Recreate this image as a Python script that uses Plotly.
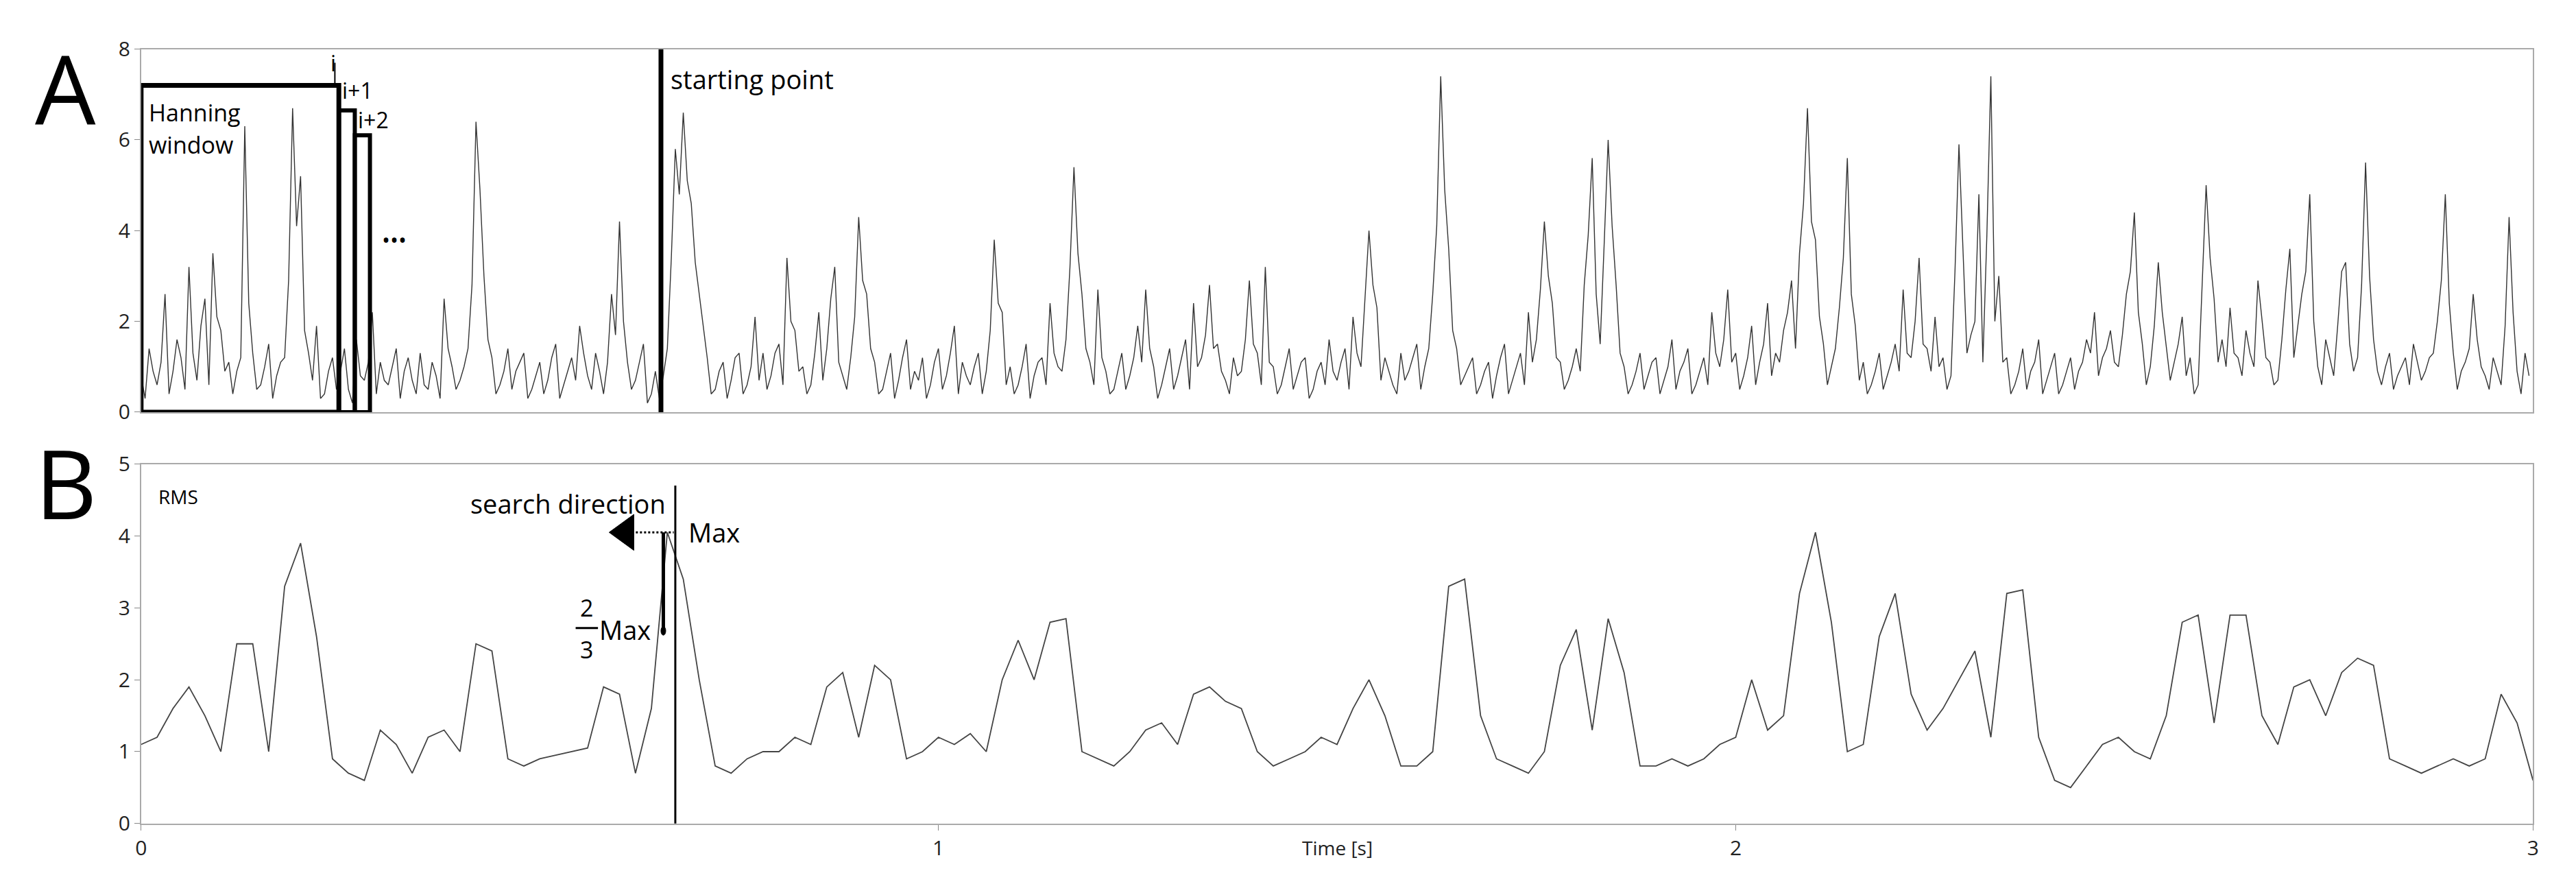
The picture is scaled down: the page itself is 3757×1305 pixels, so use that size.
import plotly.graph_objects as go

# EMG samples at t = 0.00, 0.01, ...
emg = [
0.8,1.4,0.6,2.6,0.9,1.2,3.2,0.7,2.5,3.5,
1.8,1.1,0.9,6.3,1.3,0.6,1.5,0.8,1.2,6.7,
5.2,1.3,1.9,0.4,1.2,0.9,0.5,1.6,0.7,2.2,
1.1,0.6,1.4,0.9,0.7,1.3,0.5,0.8,2.5,1.0,
0.7,1.4,6.4,3.0,1.2,0.6,1.4,0.9,1.3,0.5,
1.1,0.7,1.5,0.6,1.2,1.9,0.8,1.3,0.4,2.6,
4.2,1.1,0.7,1.5,0.4,0.3,1.4,5.8,6.6,4.6,
2.6,1.2,0.5,1.1,0.7,1.3,0.6,2.1,1.3,0.8,
1.5,3.4,1.8,1.0,0.6,2.2,1.4,3.2,0.8,1.2,
4.3,2.6,1.1,0.5,1.3,0.7,1.6,0.9,1.2,0.6,
1.4,0.8,1.9,1.1,0.6,1.3,0.9,3.8,2.2,1.0,
0.6,1.5,0.8,1.2,2.4,1.0,1.6,5.4,2.6,1.1,
2.7,0.9,0.5,1.3,0.8,1.9,2.7,1.0,0.6,1.4,
0.8,1.6,2.4,1.2,2.8,1.5,0.7,1.2,0.9,2.9,
1.3,3.2,1.0,0.6,1.4,0.8,1.2,0.5,1.1,1.6,
0.7,1.4,2.1,1.0,4.0,2.3,1.2,0.6,1.3,0.9,
1.5,1.0,2.6,7.4,3.6,1.4,0.8,1.2,0.6,1.1,
0.8,1.5,0.7,1.3,2.2,1.6,4.2,2.4,1.1,0.7,
1.4,2.8,5.6,1.5,6.0,2.8,1.0,0.6,1.3,0.8,
1.2,0.7,1.6,0.9,1.4,0.6,1.2,2.2,1.0,2.7,
1.3,0.8,1.9,1.1,2.4,1.3,1.8,2.9,3.5,6.7,
3.8,1.5,1.0,2.3,5.6,1.9,1.1,0.6,1.3,0.8,
1.5,2.7,1.2,3.4,1.4,2.1,1.2,0.8,5.9,1.3,
2.0,1.1,7.4,3.0,1.2,0.6,1.4,0.9,1.6,0.7,
1.3,0.6,1.2,0.9,1.6,2.2,1.2,1.8,1.0,2.6,
4.4,1.5,1.0,3.3,1.4,1.1,2.1,1.2,0.6,5.0,
2.5,1.6,2.3,1.2,1.8,1.0,2.0,1.1,0.7,2.7,
1.2,2.6,4.8,1.0,1.6,0.8,3.1,1.5,1.2,5.5,
1.6,0.6,1.3,0.8,1.2,1.5,0.7,1.2,2.0,4.8,
1.3,0.9,1.4,1.6,0.8,1.2,0.6,4.3,0.9,1.3]
# EMG samples in between, at t = 0.005, 0.015, ...
emg_mid = [
0.3,0.9,1.1,0.4,1.6,0.5,1.3,1.9,0.6,2.1,
0.9,0.4,1.2,2.4,0.5,1.0,0.3,1.1,2.9,4.1,
1.8,0.7,0.3,0.9,0.5,1.4,0.2,0.8,1.1,0.4,
0.7,1.0,0.3,1.2,0.4,0.6,1.1,0.3,1.4,0.5,
1.0,2.8,4.9,1.6,0.4,0.9,0.5,1.1,0.3,0.8,
0.4,1.2,0.3,0.9,0.7,1.3,0.5,0.9,1.1,1.7,
2.0,0.5,1.1,0.2,0.9,0.8,3.4,4.8,5.1,3.3,
1.9,0.4,0.9,0.3,1.2,0.4,1.0,0.7,0.5,1.3,
0.6,2.0,0.9,0.4,1.3,0.7,2.5,1.1,0.5,2.1,
2.9,1.4,0.4,0.9,0.3,1.2,0.5,0.7,0.3,1.1,
0.5,1.3,0.4,0.8,1.0,0.4,1.8,2.4,0.6,0.4,
1.0,0.3,1.1,0.6,1.3,0.9,3.2,3.5,1.4,0.6,
1.2,0.4,0.9,0.5,1.2,1.1,1.4,0.3,1.0,0.5,
1.2,0.5,1.0,1.7,1.4,0.9,0.4,0.8,1.6,1.5,
0.6,1.1,0.4,1.0,0.5,1.1,0.3,0.9,0.6,0.9,
1.1,0.5,1.3,2.6,2.8,0.7,0.9,0.4,0.7,1.2,
0.5,1.4,4.1,4.9,1.8,0.6,1.0,0.4,0.9,0.3,
1.2,0.4,1.0,0.6,1.1,2.7,3.0,1.2,0.5,1.0,
0.9,3.9,2.6,3.7,4.1,1.3,0.4,0.9,0.5,1.1,
0.4,1.0,0.5,1.1,0.4,0.9,0.6,1.3,1.6,1.1,
0.5,1.2,0.6,1.5,0.8,1.1,2.2,1.4,4.6,4.2,
2.1,0.6,1.4,3.4,2.6,0.7,0.4,0.9,0.5,1.1,
0.9,1.3,2.0,1.5,0.9,1.0,0.5,3.1,3.6,1.7,
4.8,3.9,2.0,1.1,0.4,0.9,0.5,1.1,0.4,1.0,
0.4,0.9,0.5,1.1,1.3,0.8,1.4,1.1,1.7,3.1,
2.2,0.6,1.9,2.2,0.7,1.5,0.8,0.4,2.8,3.4,
1.1,1.0,1.3,0.8,1.3,2.9,1.2,0.6,1.6,3.6,
1.9,3.1,2.0,0.6,1.2,1.9,3.3,0.9,2.8,3.0,
0.9,1.0,0.5,1.0,0.6,1.1,0.9,1.3,2.9,2.4,
0.5,1.1,2.6,1.0,0.5,0.9,1.9,2.2,0.4,0.8]
emg_t = []
emg_y = []
for i in range(len(emg)):
    emg_t += [i * 0.01, i * 0.01 + 0.005]
    emg_y += [emg[i], emg_mid[i]]

rms = [
1.1,1.2,1.6,1.9,1.5,1.0,2.5,2.5,1.0,3.3,
3.9,2.6,0.9,0.7,0.6,1.3,1.1,0.7,1.2,1.3,
1.0,2.5,2.4,0.9,0.8,0.9,0.95,1.0,1.05,1.9,
1.8,0.7,1.6,4.05,3.4,2.0,0.8,0.7,0.9,1.0,
1.0,1.2,1.1,1.9,2.1,1.2,2.2,2.0,0.9,1.0,
1.2,1.1,1.25,1.0,2.0,2.55,2.0,2.8,2.85,1.0,
0.9,0.8,1.0,1.3,1.4,1.1,1.8,1.9,1.7,1.6,
1.0,0.8,0.9,1.0,1.2,1.1,1.6,2.0,1.5,0.8,
0.8,1.0,3.3,3.4,1.5,0.9,0.8,0.7,1.0,2.2,
2.7,1.3,2.85,2.1,0.8,0.8,0.9,0.8,0.9,1.1,
1.2,2.0,1.3,1.5,3.2,4.05,2.8,1.0,1.1,2.6,
3.2,1.8,1.3,1.6,2.0,2.4,1.2,3.2,3.25,1.2,
0.6,0.5,0.8,1.1,1.2,1.0,0.9,1.5,2.8,2.9,
1.4,2.9,2.9,1.5,1.1,1.9,2.0,1.5,2.1,2.3,
2.2,0.9,0.8,0.7,0.8,0.9,0.8,0.9,1.8,1.4,0.6]
rms_t = [i * 0.02 for i in range(len(rms))]

x_ticks = [0, 1, 2, 3]
font = "Open Sans"
fig = go.Figure()
fig.add_trace(go.Scatter(x=emg_t, y=emg_y, mode="lines", line=dict(color="#333", width=1.4),
                         xaxis="x", yaxis="y", showlegend=False))
fig.add_trace(go.Scatter(x=rms_t, y=rms, mode="lines", line=dict(color="#444", width=1.8),
                         xaxis="x2", yaxis="y2", showlegend=False))

axcommon = dict(showline=True, linecolor="#aaa", linewidth=2, mirror=True, showgrid=False,
                zeroline=False, ticklen=8, tickcolor="#888",
                tickfont=dict(family=font, size=30, color="#222"))
XD = [0.0505, 0.9835]
fig.update_layout(
    width=3757, height=1305, margin=dict(l=0, r=0, t=0, b=0),
    plot_bgcolor="white", paper_bgcolor="white",
    xaxis=dict(domain=XD, range=[0, 3], anchor="y", showticklabels=False, ticks="", **axcommon),
    yaxis=dict(domain=[0.548, 0.967], range=[0, 8], tickvals=[0, 2, 4, 6, 8], anchor="x", ticks="outside", **axcommon),
    xaxis2=dict(domain=XD, range=[0, 3], anchor="y2", tickvals=x_ticks, ticks="outside", **axcommon),
    yaxis2=dict(domain=[0.073, 0.488], range=[0, 5], tickvals=[0, 1, 2, 3, 4, 5], anchor="x2", ticks="outside", **axcommon),
)

blk = "black"
shapes = [
    dict(type="rect", xref="x", yref="y", x0=0, x1=0.248, y0=0, y1=7.2, line=dict(color=blk, width=7)),
    dict(type="rect", xref="x", yref="y", x0=0.248, x1=0.268, y0=0, y1=6.65, line=dict(color=blk, width=6)),
    dict(type="rect", xref="x", yref="y", x0=0.268, x1=0.287, y0=0, y1=6.1, line=dict(color=blk, width=6)),
    dict(type="line", xref="x", yref="y", x0=0.243, x1=0.243, y0=7.2, y1=7.7, line=dict(color=blk, width=2)),
    dict(type="line", xref="x", yref="y", x0=0.652, x1=0.652, y0=0, y1=8, line=dict(color=blk, width=7)),
    dict(type="line", xref="x2", yref="y2", x0=0.67, x1=0.67, y0=-0.05, y1=4.7, line=dict(color=blk, width=3)),
    dict(type="line", xref="x2", yref="y2", x0=0.655, x1=0.655, y0=2.68, y1=4.05, line=dict(color=blk, width=5)),
    dict(type="line", xref="x2", yref="y2", x0=0.605, x1=0.668, y0=4.05, y1=4.05, line=dict(color=blk, width=3, dash="dot")),
    dict(type="path", xref="x2", yref="y2", path="M 0.587 4.05 L 0.618 4.3 L 0.618 3.8 Z", fillcolor=blk, line=dict(color=blk, width=1)),
    dict(type="circle", xref="x2", yref="y2", x0=0.652, x1=0.658, y0=2.62, y1=2.74, fillcolor=blk, line=dict(color=blk, width=1)),
    dict(type="line", xref="x2", yref="y2", x0=0.545, x1=0.573, y0=2.72, y1=2.72, line=dict(color=blk, width=3)),
]
fig.update_layout(shapes=shapes)

def ann(x, y, text, size=36, xref="x", yref="y", xanchor="left", yanchor="middle"):
    fig.add_annotation(x=x, y=y, xref=xref, yref=yref, text=text, showarrow=False,
                       font=dict(family=font, size=size, color="black"), xanchor=xanchor, yanchor=yanchor)

ann(0.008, 6.6, "Hanning", 34)
ann(0.008, 5.9, "window", 34)
ann(0.236, 7.7, "i", 32)
ann(0.25, 7.1, "i+1", 32)
ann(0.27, 6.45, "i+2", 32)
ann(0.3, 3.8, "•••", 32)
ann(0.662, 7.35, "starting point", 38)
ann(0.02, 4.55, "RMS", 28, "x2", "y2")
ann(0.66, 4.45, "search direction", 38, "x2", "y2", xanchor="right")
ann(0.685, 4.05, "Max", 38, "x2", "y2")
ann(0.559, 3.0, "2", 34, "x2", "y2", xanchor="center")
ann(0.559, 2.42, "3", 34, "x2", "y2", xanchor="center")
ann(0.573, 2.7, "Max", 38, "x2", "y2")
fig.add_annotation(x=1.5, y=0.045, xref="x2", yref="paper", text="Time [s]", showarrow=False,
                   font=dict(family=font, size=28, color="#222"), xanchor="center", yanchor="middle")
fig.add_annotation(x=0.021, y=1.0, xref="paper", yref="paper", text="A", showarrow=False,
                   font=dict(family=font, size=140, color="black"), xanchor="center", yanchor="top")
fig.add_annotation(x=0.021, y=0.545, xref="paper", yref="paper", text="B", showarrow=False,
                   font=dict(family=font, size=140, color="black"), xanchor="center", yanchor="top")

fig.write_html("out.html")
